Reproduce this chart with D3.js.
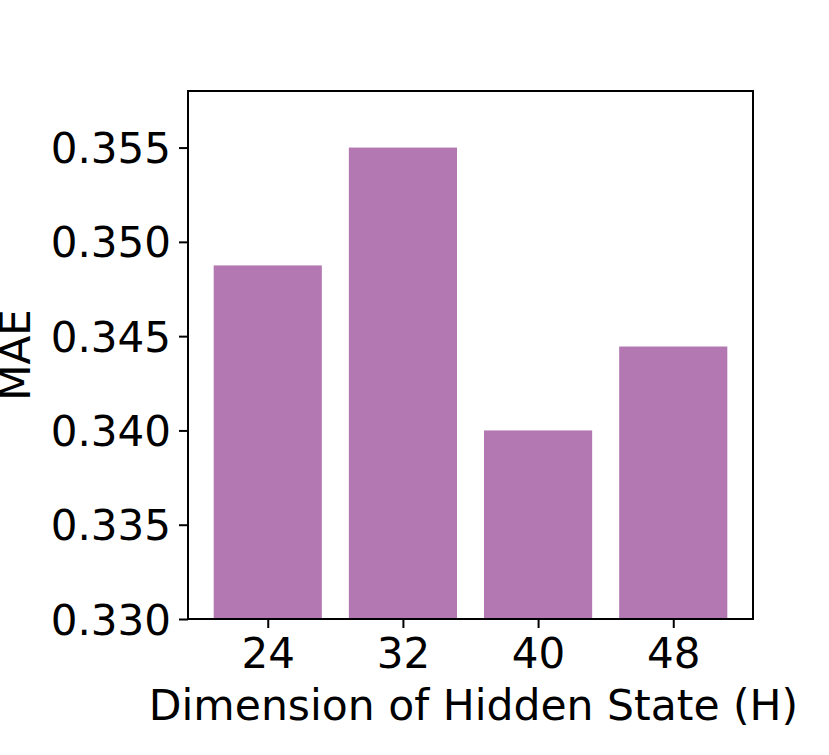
<!DOCTYPE html>
<html>
<head>
<meta charset="utf-8">
<script src="https://cdn.jsdelivr.net/npm/d3@7"></script>
<style>
  body { margin: 0; background: #fff; }
  text { font-family: "DejaVu Sans", sans-serif; fill: #000; }
</style>
</head>
<body>
<div id="chart"></div>
<script>
// values
var categories = ["24", "32", "40", "48"];
var maeValues = [0.34875, 0.35500, 0.34000, 0.34445];
var yTicks = [0.330, 0.335, 0.340, 0.345, 0.350, 0.355];

var W = 829, H = 755;
var margin = {top: 91, right: 76, bottom: 136, left: 188},
    width = W - margin.left - margin.right,
    height = H - margin.top - margin.bottom;

var svg = d3.select("#chart")
    .append("svg")
    .attr("width", W)
    .attr("height", H);

var g = svg.append("g")
    .attr("transform", "translate(" + margin.left + "," + margin.top + ")");

// matplotlib-style x: bars at 0..n-1, width 0.8, 5% margins
var n = categories.length;
var lo = -0.4, hi = n - 1 + 0.4, pad = (hi - lo) * 0.05;
var x = d3.scaleLinear()
    .domain([lo - pad, hi + pad])
    .range([0, width]);

var y = d3.scaleLinear()
    .domain([0.330, 0.358])
    .range([height, 0]);

// bars
g.selectAll("rect.bar")
    .data(maeValues)
    .enter()
    .append("rect")
    .attr("class", "bar")
    .attr("x", function(d, i) { return x(i - 0.4); })
    .attr("width", function(d, i) { return x(i + 0.4) - x(i - 0.4); })
    .attr("y", function(d) { return y(d); })
    .attr("height", function(d) { return y(0.330) - y(d); })
    .style("fill", "#b377b2");

// x axis
var xAxis = g.append("g")
    .attr("transform", "translate(0," + height + ")")
    .call(d3.axisBottom(x)
        .tickValues(d3.range(n))
        .tickFormat(function(i) { return categories[i]; })
        .tickSize(9)
        .tickPadding(10));

// y axis
var yAxis = g.append("g")
    .call(d3.axisLeft(y)
        .tickValues(yTicks)
        .tickFormat(d3.format(".3f"))
        .tickSize(9)
        .tickPadding(8));

[xAxis, yAxis].forEach(function(ax) {
    ax.select(".domain").remove();
    ax.selectAll(".tick line").attr("stroke", "#000").attr("stroke-width", 2);
    ax.selectAll(".tick text")
        .style("font-size", "42px")
        .style("font-family", "DejaVu Sans, sans-serif");
});
yAxis.selectAll(".tick text").attr("dy", "0.36em");

// frame
g.append("rect")
    .attr("x", 0).attr("y", 0)
    .attr("width", width).attr("height", height)
    .attr("fill", "none")
    .attr("stroke", "#000")
    .attr("stroke-width", 2);

// axis labels
svg.append("text")
    .attr("x", margin.left + width / 2 + 3)
    .attr("y", 720)
    .attr("text-anchor", "middle")
    .style("font-size", "42.5px")
    .text("Dimension of Hidden State (H)");

svg.append("text")
    .attr("transform", "translate(30," + (margin.top + height / 2) + ") rotate(-90)")
    .attr("text-anchor", "middle")
    .style("font-size", "42px")
    .text("MAE");
</script>
</body>
</html>
